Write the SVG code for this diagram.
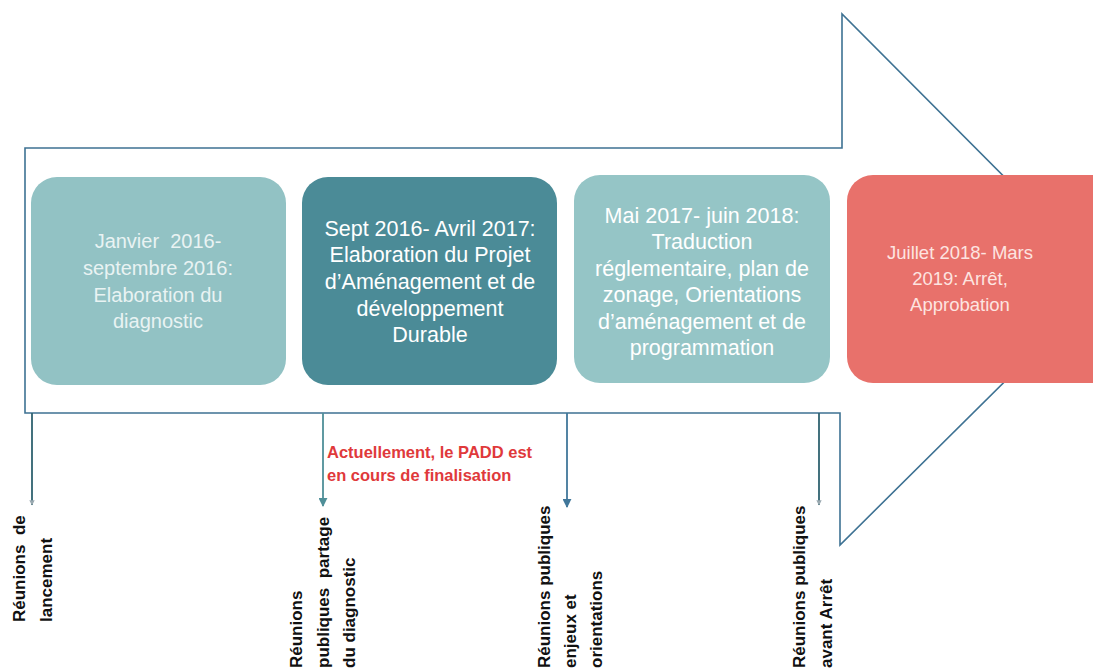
<svg xmlns="http://www.w3.org/2000/svg" width="1093" height="670" viewBox="0 0 1093 670">
<style>
.bt{font-family:"Liberation Sans",Arial,sans-serif;text-anchor:middle}
.lb{font-family:"Liberation Sans",Arial,sans-serif;font-weight:bold;font-size:17px;fill:#111}
.note{font-family:"Liberation Sans",Arial,sans-serif;font-weight:bold;font-size:16.5px;fill:#e0393b}
.conn{fill:none;stroke-width:1.8}
.pre{white-space:pre}
</style>
<defs>
<marker id="ah" viewBox="0 0 10 10" refX="9" refY="5" markerWidth="5" markerHeight="5" orient="auto"><path d="M0,0 L10,5 L0,10 z" fill="context-stroke"/></marker>
<marker id="ahs" viewBox="0 0 10 10" refX="9" refY="5" markerWidth="3" markerHeight="3" orient="auto"><path d="M0,0 L10,5 L0,10 z" fill="#9aa9b0"/></marker>
</defs>
<rect width="1093" height="670" fill="#fff"/>
<g id="arrow">
<polygon points="25,148 842,148 842,14 1107,280 840,545 840,413 25,413" fill="#fff" stroke="#3e7293" stroke-width="1.6"/>
</g>
<g id="box1">
<rect x="31" y="177" width="255" height="208" rx="26" fill="#92c2c4"/>
<text class="bt" font-size="20" fill="#e9f3f3"><tspan class="pre" x="158" y="248">Janvier  2016-</tspan><tspan x="158" y="275">septembre 2016:</tspan><tspan x="158" y="302">Elaboration du</tspan><tspan x="158" y="328">diagnostic</tspan></text>
</g>
<g id="box2">
<rect x="302" y="177" width="255" height="208" rx="26" fill="#4b8b97"/>
<text class="bt" font-size="21.5" fill="#ffffff"><tspan x="430" y="236">Sept 2016- Avril 2017:</tspan><tspan x="430" y="262">Elaboration du Projet</tspan><tspan x="430" y="289">d’Aménagement et de</tspan><tspan x="430" y="316">développement</tspan><tspan x="430" y="342">Durable</tspan></text>
</g>
<g id="box3">
<rect x="574" y="175" width="256" height="208" rx="26" fill="#95c5c6"/>
<text class="bt" font-size="21.5" fill="#ffffff"><tspan x="702" y="223">Mai 2017- juin 2018:</tspan><tspan x="702" y="249">Traduction</tspan><tspan x="702" y="276">réglementaire, plan de</tspan><tspan x="702" y="302">zonage, Orientations</tspan><tspan x="702" y="329">d’aménagement et de</tspan><tspan x="702" y="355">programmation</tspan></text>
</g>
<g id="box4">
<rect x="847" y="175" width="270" height="208" rx="26" fill="#e8716b"/>
<text class="bt" font-size="18.5" fill="#fde4e0"><tspan x="960" y="259">Juillet 2018- Mars</tspan><tspan x="960" y="285">2019: Arrêt,</tspan><tspan x="960" y="311">Approbation</tspan></text>
</g>
<g id="connectors">
<line class="conn" x1="32" y1="413" x2="32" y2="505" stroke="#2f6270" marker-end="url(#ahs)"/>
<line class="conn" x1="323" y1="413" x2="323" y2="506" stroke="#4f8f98" marker-end="url(#ah)"/>
<line class="conn" x1="567" y1="413" x2="567" y2="507" stroke="#41779a" marker-end="url(#ah)"/>
<line class="conn" x1="819" y1="413" x2="819" y2="505" stroke="#2f6270" marker-end="url(#ahs)"/>
</g>
<g id="note">
<text class="note"><tspan x="327" y="458">Actuellement, le PADD est</tspan><tspan x="327" y="481">en cours de finalisation</tspan></text>
</g>
<g id="label1">
<text class="lb pre" transform="translate(25,622) rotate(-90)">Réunions  de</text>
<text class="lb" transform="translate(52,622) rotate(-90)">lancement</text>
</g>
<g id="label2">
<text class="lb" transform="translate(302,668) rotate(-90)">Réunions</text>
<text class="lb pre" transform="translate(329,668) rotate(-90)">publiques  partage</text>
<text class="lb" transform="translate(355,668) rotate(-90)">du diagnostic</text>
</g>
<g id="label3">
<text class="lb" transform="translate(550,668) rotate(-90)">Réunions publiques</text>
<text class="lb" transform="translate(576,668) rotate(-90)">enjeux et</text>
<text class="lb" transform="translate(602,668) rotate(-90)">orientations</text>
</g>
<g id="label4">
<text class="lb" transform="translate(805,668) rotate(-90)">Réunions publiques</text>
<text class="lb" transform="translate(832,668) rotate(-90)">avant Arrêt</text>
</g>
</svg>
